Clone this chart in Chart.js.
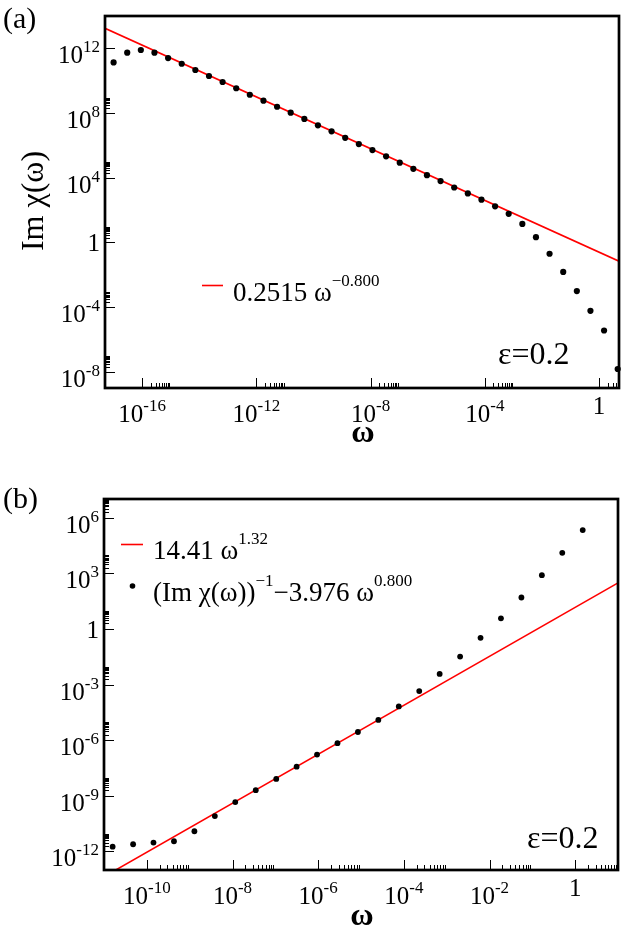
<!DOCTYPE html>
<html>
<head>
<meta charset="utf-8">
<title>Im chi(omega), eps=0.2</title>
<script src="https://cdn.jsdelivr.net/npm/chart.js@4.4.1/dist/chart.umd.min.js"></script>
<style>
  html, body { margin: 0; padding: 0; background: #fff; }
  #wrap { position: relative; width: 623px; height: 928px; overflow: hidden; }
  canvas { position: absolute; left: 0; }
  #chartA { top: 0; }
  #chartB { top: 464px; }
</style>
</head>
<body>
<div id="wrap">
  <canvas id="chartA" width="623" height="464"></canvas>
  <canvas id="chartB" width="623" height="464"></canvas>
</div>
<script>
// ──────── DATA: panel (a) ────────
const omegaA = [1e-17, 3e-17, 9e-17, 2.7e-16, 8.1e-16, 2.43e-15, 7.29e-15, 2.19e-14, 6.56e-14,
  1.97e-13, 5.9e-13, 1.77e-12, 5.31e-12, 1.59e-11, 4.78e-11, 1.43e-10, 4.3e-10, 1.29e-9, 3.87e-9,
  1.16e-8, 3.49e-8, 1.05e-7, 3.14e-7, 9.41e-7, 2.82e-6, 8.47e-6, 2.54e-5, 7.63e-5, 2.29e-4,
  6.86e-4, 2.06e-3, 6.18e-3, 1.85e-2, 5.56e-2, 0.167, 0.5, 1.5, 4.5];
const imChiA = [1.35e11, 5.4e11, 7.9e11, 5.4e11, 2.5e11, 1.12e11, 4.6e10, 1.95e10, 8.3e9,
  3.4e9, 1.35e9, 5.8e8, 2.45e8, 1.05e8, 4.3e7, 1.74e7, 7.4e6, 2.95e6, 1.2e6,
  5.1e5, 2.1e5, 8.5e4, 3.55e4, 1.45e4, 6.2e3, 2.5e3, 1.07e3, 440, 170,
  59, 14, 2.1, 0.2, 0.015, 9.8e-4, 5.9e-5, 3.6e-6, 1.5e-8];
// fit 0.2515 w^-0.8, end points at the axis limits
const fitOmegaA = [5e-18, 5];
const fitA = [1.74e13, 0.0693];

const xTicksA = [1e-16, 1e-12, 1e-8, 1e-4, 1];
const xLabelsA = ["-16", "-12", "-8", "-4", null];
const yTicksA = [1e-8, 1e-4, 1, 1e4, 1e8, 1e12];
const yLabelsA = ["-8", "-4", null, "4", "8", "12"];
const yMinorA = [1e-8, 1e-4, 1, 1e4, 1e8];

// ──────── DATA: panel (b) ────────
const omegaB = [1.59e-11, 4.78e-11, 1.43e-10, 4.3e-10, 1.29e-9, 3.87e-9, 1.16e-8, 3.49e-8,
  1.05e-7, 3.14e-7, 9.41e-7, 2.82e-6, 8.47e-6, 2.54e-5, 7.63e-5, 2.29e-4, 6.86e-4, 2.06e-3,
  6.18e-3, 1.85e-2, 5.56e-2, 0.167, 0.5, 1.5];
const invChiB = [1.8e-12, 2.45e-12, 3.0e-12, 3.55e-12, 1.23e-11, 8.1e-11, 4.6e-10, 2.0e-9,
  8.1e-9, 3.7e-8, 1.66e-7, 6.9e-7, 2.75e-6, 1.23e-5, 6.6e-5, 4.4e-4, 3.7e-3, 0.032,
  0.33, 3.7, 49, 780, 1.26e4, 2.1e5];
// fit 14.41 w^1.32
const fitOmegaB = [1e-11, 10];
const fitB = [4.35e-14, 301];

const xTicksB = [1e-10, 1e-8, 1e-6, 1e-4, 1e-2, 1];
const xLabelsB = ["-10", "-8", "-6", "-4", "-2", null];
const yTicksB = [1e-12, 1e-9, 1e-6, 1e-3, 1, 1e3, 1e6];
const yLabelsB = ["-12", "-9", "-6", "-3", null, "3", "6"];

const MINOR = [2, 3, 4, 5, 6, 7, 8, 9];
const SERIF = '"Liberation Serif", "Times New Roman", Times, serif';
const TICK_PX = 25, SUP_PX = 17, LEG_PX = 27;

// ──────── TEXT HELPERS ────────
const runs = (ctx, list, x, y) => {
  let cx = x;
  ctx.textAlign = "left";
  ctx.textBaseline = "alphabetic";
  list.forEach(r => {
    ctx.font = `${r.size}px ${SERIF}`;
    ctx.fillText(r.text, cx, y - (r.rise || 0));
    cx += ctx.measureText(r.text).width;
  });
  return cx;
};

const width = (ctx, list) => list.reduce((w, r) => {
  ctx.font = `${r.size}px ${SERIF}`;
  return w + ctx.measureText(r.text).width;
}, 0);

const tickLabel = exp => exp === null
  ? [{ text: "1", size: TICK_PX }]
  : [{ text: "10", size: TICK_PX }, { text: exp, size: SUP_PX, rise: 11 }];

// ──────── FRAME / TICKS / TEXT PLUGIN ────────
const decor = p => ({
  id: "decor",
  afterDraw(chart) {
    const { ctx, chartArea: a } = chart;
    const sx = chart.scales.x, sy = chart.scales.y;
    const snap = v => Math.round(v) + 0.5;
    ctx.save();
    ctx.strokeStyle = "#000";
    ctx.fillStyle = "#000";
    ctx.lineWidth = 1;
    ctx.beginPath();
    p.xMinor.forEach(d => MINOR.forEach(m => {
      const v = d * m;
      if (v >= sx.max) return;
      const px = snap(sx.getPixelForValue(v));
      ctx.moveTo(px, a.bottom); ctx.lineTo(px, a.bottom - 5);
    }));
    p.yMinor.forEach(d => MINOR.forEach(m => {
      const v = d * m;
      if (v >= sy.max) return;
      const py = snap(sy.getPixelForValue(v));
      ctx.moveTo(a.left, py); ctx.lineTo(a.left + 5, py);
    }));
    p.xTicks.forEach(v => {
      const px = snap(sx.getPixelForValue(v));
      ctx.moveTo(px, a.bottom); ctx.lineTo(px, a.bottom - 10);
    });
    p.yTicks.forEach(v => {
      const py = snap(sy.getPixelForValue(v));
      ctx.moveTo(a.left, py); ctx.lineTo(a.left + 10, py);
    });
    ctx.stroke();

    ctx.lineWidth = 2.7;
    ctx.strokeRect(a.left, a.top, a.right - a.left, a.bottom - a.top);

    // tick labels
    p.xTicks.forEach((v, i) => {
      const lab = tickLabel(p.xLabels[i]);
      const px = sx.getPixelForValue(v);
      const base = p.xLabels[i] === null ? a.bottom + 26 : a.bottom + 34;
      runs(ctx, lab, px - width(ctx, lab) / 2, base);
    });
    p.yTicks.forEach((v, i) => {
      const lab = tickLabel(p.yLabels[i]);
      const py = sy.getPixelForValue(v);
      const base = p.yLabels[i] === null ? py + 9 : py + 15;
      runs(ctx, lab, a.left - 5 - width(ctx, lab), base);
    });

    p.extra(ctx, a);
    ctx.restore();
  }
});

const options = p => ({
  responsive: false,
  animation: false,
  layout: { padding: p.pad },
  plugins: { legend: { display: false }, tooltip: { enabled: false } },
  scales: {
    x: {
      type: "logarithmic", min: p.xMin, max: p.xMax, bounds: "data",
      ticks: { display: false }, grid: { display: false }, border: { display: false },
      afterFit: s => { s.height = p.xH; }
    },
    y: {
      type: "logarithmic", min: p.yMin, max: p.yMax, bounds: "data",
      ticks: { display: false }, grid: { display: false }, border: { display: false },
      afterFit: s => { s.width = p.yW; }
    }
  }
});

const pts = (xs, ys) => xs.map((x, i) => ({ x, y: ys[i] }));

// ──────── PANEL (a) ────────
const panelA = {
  pad: { left: 0, top: 16, right: 3, bottom: 0 }, xH: 76, yW: 105,
  xMin: 5e-18, xMax: 5, yMin: 1e-9, yMax: 1e14,
  xTicks: xTicksA, xLabels: xLabelsA, xMinor: xTicksA,
  yTicks: yTicksA, yLabels: yLabelsA, yMinor: yMinorA,
  extra: (ctx, a) => {
    runs(ctx, [{ text: "(a)", size: 30 }], 3, 28);
    ctx.strokeStyle = "#ff0000"; ctx.lineWidth = 1.6;
    ctx.beginPath(); ctx.moveTo(202, 285.5); ctx.lineTo(223, 285.5); ctx.stroke();
    runs(ctx, [{ text: "0.2515 ω", size: LEG_PX }, { text: "−0.800", size: SUP_PX, rise: 15 }], 233, 300.5);
    runs(ctx, [{ text: "ε=0.2", size: 32 }], 498, 364);
    ctx.textAlign = "center";
    ctx.font = `bold 32px ${SERIF}`;
    ctx.fillText("ω", (a.left + a.right) / 2 + 1, 442);
    ctx.font = `32px ${SERIF}`;
    ctx.save();
    ctx.translate(43, 201);
    ctx.rotate(-Math.PI / 2);
    ctx.fillText("Im χ(ω)", 0, 0);
    ctx.restore();
  }
};

new Chart(document.getElementById("chartA"), {
  type: "scatter",
  data: {
    datasets: [
      { type: "line", data: pts(fitOmegaA, fitA), borderColor: "#ff0000", borderWidth: 1.6,
        pointRadius: 0, fill: false, order: 2 },
      { data: pts(omegaA, imChiA), backgroundColor: "#000", borderWidth: 0, pointRadius: 3.1,
        clip: false, order: 1 }
    ]
  },
  options: options(panelA),
  plugins: [decor(panelA)]
});

// ──────── PANEL (b) ────────
const panelB = {
  pad: { left: 0, top: 35, right: 5, bottom: 0 }, xH: 58, yW: 104,
  xMin: 1e-11, xMax: 10, yMin: 1e-13, yMax: 1e7,
  xTicks: xTicksB, xLabels: xLabelsB, xMinor: xTicksB,
  yTicks: yTicksB, yLabels: yLabelsB, yMinor: yTicksB,
  extra: (ctx, a) => {
    runs(ctx, [{ text: "(b)", size: 30 }], 3, 44);
    ctx.strokeStyle = "#ff0000"; ctx.lineWidth = 1.6;
    ctx.beginPath(); ctx.moveTo(121, 80.5); ctx.lineTo(143, 80.5); ctx.stroke();
    runs(ctx, [{ text: "14.41 ω", size: LEG_PX }, { text: "1.32", size: SUP_PX, rise: 15 }], 153, 95);
    ctx.fillStyle = "#000";
    ctx.beginPath(); ctx.arc(132.5, 122, 2.8, 0, Math.PI * 2); ctx.fill();
    runs(ctx, [
      { text: "(Im χ(ω))", size: LEG_PX },
      { text: "−1", size: SUP_PX, rise: 15 },
      { text: "−3.976 ω", size: LEG_PX },
      { text: "0.800", size: SUP_PX, rise: 15 }
    ], 153, 137);
    runs(ctx, [{ text: "ε=0.2", size: 32 }], 527, 384);
    ctx.textAlign = "center";
    ctx.font = `bold 32px ${SERIF}`;
    ctx.fillText("ω", (a.left + a.right) / 2 + 1, 461);
  }
};

new Chart(document.getElementById("chartB"), {
  type: "scatter",
  data: {
    datasets: [
      { type: "line", data: pts(fitOmegaB, fitB), borderColor: "#ff0000", borderWidth: 1.6,
        pointRadius: 0, fill: false, order: 2 },
      { data: pts(omegaB, invChiB), backgroundColor: "#000", borderWidth: 0, pointRadius: 2.9,
        clip: false, order: 1 }
    ]
  },
  options: options(panelB),
  plugins: [decor(panelB)]
});
</script>
</body>
</html>
